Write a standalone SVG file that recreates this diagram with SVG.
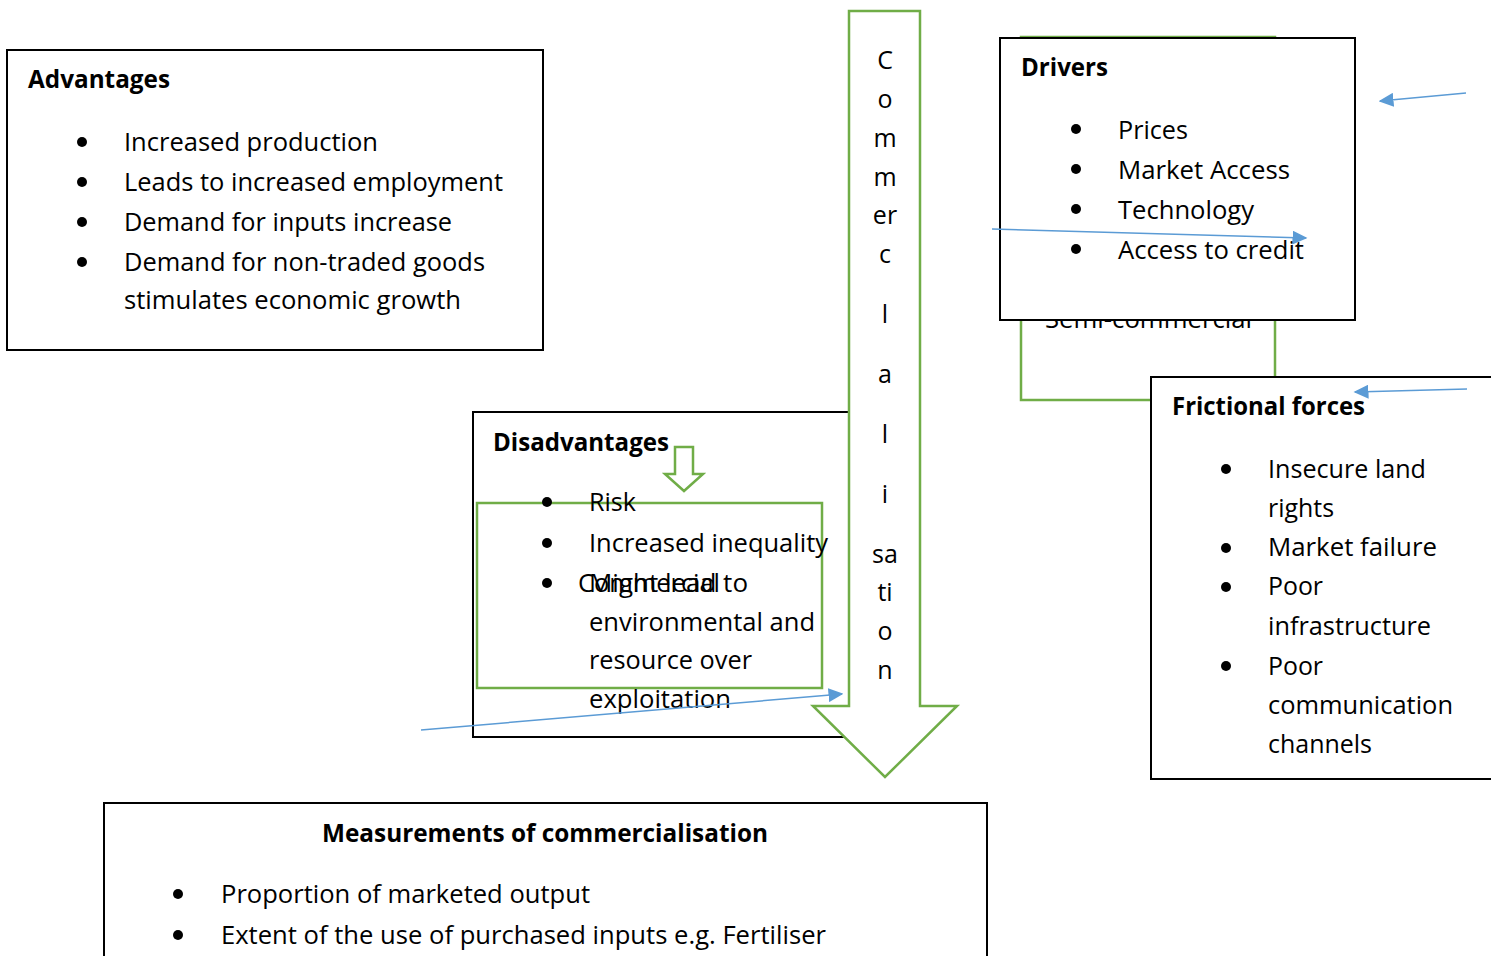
<svg xmlns="http://www.w3.org/2000/svg" width="1491" height="956" viewBox="0 0 1491 956">
<style>
text{font-family:"Open Sans","Noto Sans","Liberation Sans",sans-serif;font-size:25px;fill:#000}
.b{font-weight:bold}
.box{fill:#fff;stroke:#000;stroke-width:2}
.gbox{fill:#fff;stroke:#70AD47;stroke-width:2.5}
.gline{fill:none;stroke:#70AD47;stroke-width:2.5}
.blue{stroke:#5B9BD5;stroke-width:1.5;fill:none}
.v{text-anchor:middle}
</style>
<defs>
<marker id="ah" viewBox="0 0 10 10" refX="9" refY="5" markerWidth="15" markerHeight="14" markerUnits="userSpaceOnUse" orient="auto" preserveAspectRatio="none"><path d="M0,0 L10,5 L0,10 z" fill="#5B9BD5"/></marker>
</defs>
<rect x="0" y="0" width="1491" height="956" fill="#fff"/>

<g id="advantages">
<rect class="box" x="7" y="50" width="536" height="300"/>
<text class="b" x="28" y="88" textLength="142" lengthAdjust="spacingAndGlyphs">Advantages</text>
<circle cx="82" cy="142" r="5"/><circle cx="82" cy="182" r="5"/><circle cx="82" cy="222" r="5"/><circle cx="82" cy="262" r="5"/>
<text x="124" y="151" textLength="254" lengthAdjust="spacingAndGlyphs">Increased production</text>
<text x="124" y="191" textLength="379" lengthAdjust="spacingAndGlyphs">Leads to increased employment</text>
<text x="124" y="231" textLength="328" lengthAdjust="spacingAndGlyphs">Demand for inputs increase</text>
<text x="124" y="271" textLength="361" lengthAdjust="spacingAndGlyphs">Demand for non-traded goods</text>
<text x="124" y="309" textLength="337" lengthAdjust="spacingAndGlyphs">stimulates economic growth</text>
</g>

<g id="semi-commercial">
<rect class="gbox" x="1021" y="37" width="254" height="363"/>
<text x="1045" y="328" textLength="207" lengthAdjust="spacingAndGlyphs">Semi-commercial</text>
</g>

<g id="drivers">
<rect class="box" x="1000" y="38" width="355" height="282"/>
<text class="b" x="1021" y="76" textLength="87" lengthAdjust="spacingAndGlyphs">Drivers</text>
<circle cx="1076" cy="129" r="5"/><circle cx="1076" cy="169" r="5"/><circle cx="1076" cy="209" r="5"/><circle cx="1076" cy="249" r="5"/>
<text x="1118" y="139" textLength="70" lengthAdjust="spacingAndGlyphs">Prices</text>
<text x="1118" y="179" textLength="172" lengthAdjust="spacingAndGlyphs">Market Access</text>
<text x="1118" y="219" textLength="136" lengthAdjust="spacingAndGlyphs">Technology</text>
<text x="1118" y="259" textLength="186" lengthAdjust="spacingAndGlyphs">Access to credit</text>
</g>

<g id="frictional-forces">
<rect class="box" x="1151" y="377" width="345" height="402"/>
<text class="b" x="1172" y="415" textLength="193" lengthAdjust="spacingAndGlyphs">Frictional forces</text>
<circle cx="1226" cy="469" r="5"/><circle cx="1226" cy="548" r="5"/><circle cx="1226" cy="587" r="5"/><circle cx="1226" cy="666" r="5"/>
<text x="1268" y="478" textLength="158" lengthAdjust="spacingAndGlyphs">Insecure land</text>
<text x="1268" y="517" textLength="66" lengthAdjust="spacingAndGlyphs">rights</text>
<text x="1268" y="556" textLength="169" lengthAdjust="spacingAndGlyphs">Market failure</text>
<text x="1268" y="595" textLength="55" lengthAdjust="spacingAndGlyphs">Poor</text>
<text x="1268" y="635" textLength="163" lengthAdjust="spacingAndGlyphs">infrastructure</text>
<text x="1268" y="675" textLength="55" lengthAdjust="spacingAndGlyphs">Poor</text>
<text x="1268" y="714" textLength="185" lengthAdjust="spacingAndGlyphs">communication</text>
<text x="1268" y="753" textLength="104" lengthAdjust="spacingAndGlyphs">channels</text>
</g>

<g id="disadvantages">
<rect class="box" x="473" y="412" width="376" height="325"/>
<text class="b" x="493" y="451" textLength="176" lengthAdjust="spacingAndGlyphs">Disadvantages</text>
</g>

<g id="commercial">
<rect class="gline" x="477" y="503" width="345" height="185"/>
<text x="578" y="592" textLength="142" lengthAdjust="spacingAndGlyphs">Commercial</text>
</g>

<g id="disadvantages-items">
<circle cx="547" cy="502" r="5"/><circle cx="547" cy="543" r="5"/><circle cx="547" cy="583" r="5"/>
<text x="589" y="511" textLength="47" lengthAdjust="spacingAndGlyphs">Risk</text>
<text x="589" y="552" textLength="239" lengthAdjust="spacingAndGlyphs">Increased inequality</text>
<text x="589" y="592" textLength="159" lengthAdjust="spacingAndGlyphs">Might lead to</text>
<text x="589" y="631" textLength="226" lengthAdjust="spacingAndGlyphs">environmental and</text>
<text x="589" y="669" textLength="163" lengthAdjust="spacingAndGlyphs">resource over</text>
<text x="589" y="708" textLength="142" lengthAdjust="spacingAndGlyphs">exploitation</text>
</g>

<g id="small-arrow">
<path class="gbox" d="M675,447 L693,447 L693,474 L703,474 L684,491 L665,474 L675,474 Z"/>
</g>

<g id="commercialisation-arrow">
<path class="gbox" d="M849,11 L920,11 L920,706 L957,706 L885,777 L813,706 L849,706 Z"/>
<text class="v" x="885" y="69">C</text>
<text class="v" x="885" y="108">o</text>
<text class="v" x="885" y="147">m</text>
<text class="v" x="885" y="186">m</text>
<text class="v" x="885" y="224">er</text>
<text class="v" x="885" y="263">c</text>
<text class="v" x="885" y="323">l</text>
<text class="v" x="885" y="383">a</text>
<text class="v" x="885" y="443">l</text>
<text class="v" x="885" y="503">i</text>
<text class="v" x="885" y="563">sa</text>
<text class="v" x="885" y="601">ti</text>
<text class="v" x="885" y="640">o</text>
<text class="v" x="885" y="679">n</text>
</g>

<g id="measurements">
<rect class="box" x="104" y="803" width="883" height="160"/>
<text class="b" x="322" y="842" textLength="446" lengthAdjust="spacingAndGlyphs">Measurements of commercialisation</text>
<circle cx="178" cy="894" r="5"/><circle cx="178" cy="935" r="5"/>
<text x="221" y="903" textLength="369" lengthAdjust="spacingAndGlyphs">Proportion of marketed output</text>
<text x="221" y="944" textLength="605" lengthAdjust="spacingAndGlyphs">Extent of the use of purchased inputs e.g. Fertiliser</text>
</g>

<g id="connectors">
<line class="blue" x1="1466" y1="93" x2="1380" y2="101" marker-end="url(#ah)"/>
<line class="blue" x1="992" y1="229" x2="1306" y2="238" marker-end="url(#ah)"/>
<line class="blue" x1="1467" y1="389" x2="1355" y2="392" marker-end="url(#ah)"/>
<line class="blue" x1="421" y1="730" x2="842" y2="694" marker-end="url(#ah)"/>
</g>
</svg>
